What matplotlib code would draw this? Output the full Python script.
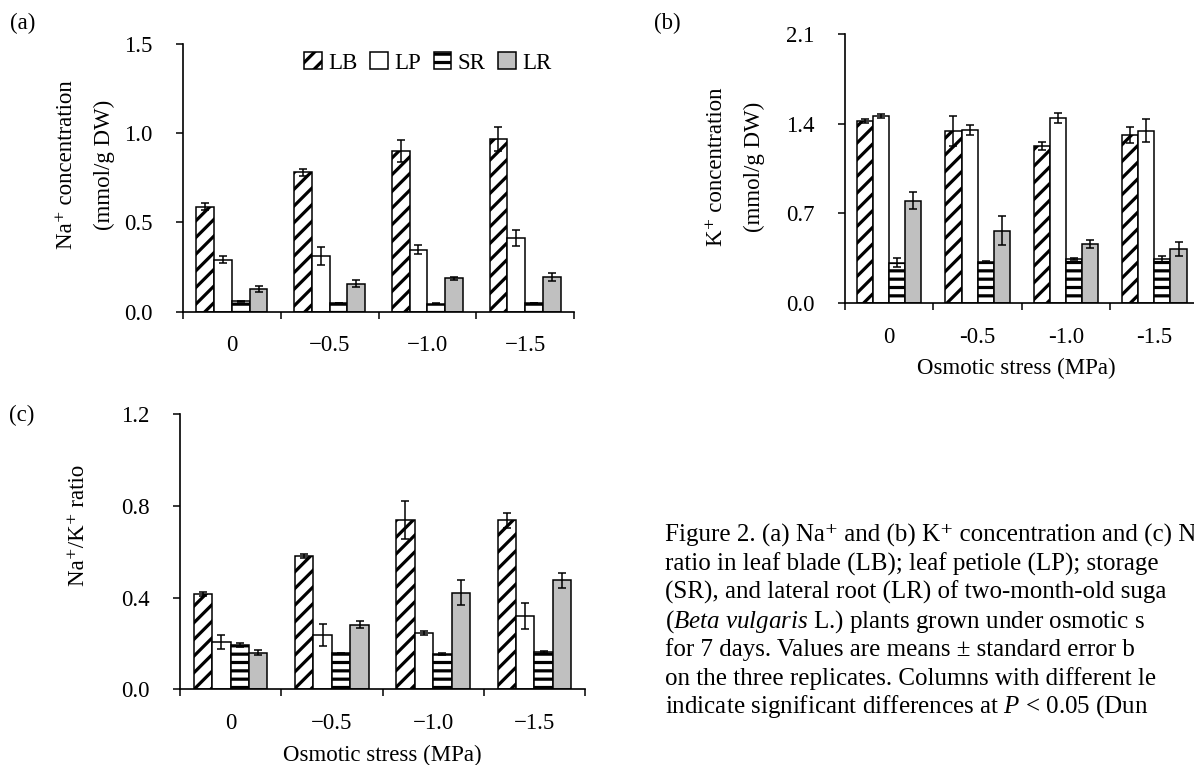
import matplotlib
matplotlib.use("Agg")
import matplotlib.pyplot as plt
import numpy as np

# ---------------- data ----------------
tissues = ["LB", "LP", "SR", "LR"]
stress_labels_a = ["0", "\u22120.5", "\u22121.0", "\u22121.5"]
stress_labels_b = ["0", "-0.5", "-1.0", "-1.5"]
stress_labels_c = ["0", "\u22120.5", "\u22121.0", "\u22121.5"]

na_LB = [0.588, 0.780, 0.899, 0.965]
na_LP = [0.292, 0.313, 0.347, 0.414]
na_SR = [0.058, 0.048, 0.045, 0.048]
na_LR = [0.128, 0.156, 0.186, 0.194]
na_LB_se = [0.018, 0.018, 0.063, 0.066]
na_LP_se = [0.019, 0.050, 0.024, 0.044]
na_SR_se = [0.004, 0.002, 0.002, 0.002]
na_LR_se = [0.018, 0.020, 0.006, 0.020]

k_LB = [1.423, 1.343, 1.226, 1.311]
k_LP = [1.462, 1.353, 1.447, 1.343]
k_SR = [0.315, 0.320, 0.345, 0.340]
k_LR = [0.800, 0.565, 0.460, 0.420]
k_LB_se = [0.017, 0.120, 0.029, 0.065]
k_LP_se = [0.014, 0.040, 0.040, 0.090]
k_SR_se = [0.035, 0.006, 0.008, 0.030]
k_LR_se = [0.065, 0.113, 0.030, 0.055]

r_LB = [0.416, 0.582, 0.740, 0.737]
r_LP = [0.205, 0.237, 0.246, 0.320]
r_SR = [0.193, 0.157, 0.154, 0.164]
r_LR = [0.160, 0.281, 0.422, 0.476]
r_LB_se = [0.009, 0.010, 0.082, 0.031]
r_LP_se = [0.031, 0.046, 0.007, 0.055]
r_SR_se = [0.007, 0.003, 0.004, 0.005]
r_LR_se = [0.012, 0.015, 0.053, 0.033]

yticks_a = [0.0, 0.5, 1.0, 1.5]
yticks_b = [0.0, 0.7, 1.4, 2.1]
yticks_c = [0.0, 0.4, 0.8, 1.2]

caption_lines = [
    "Figure 2. (a) Na\u207a and (b) K\u207a concentration and (c) N",
    "ratio in leaf blade (LB); leaf petiole (LP); storage",
    "(SR), and lateral root (LR) of two-month-old suga",
    "(${\\it Beta\\ vulgaris}$ L.) plants grown under osmotic s",
    "for 7 days. Values are means \u00b1 standard error b",
    "on the three replicates. Columns with different le",
    "indicate significant differences at ${\\it P}$ < 0.05 (Dun",
]

# ---------------- style ----------------
W, H = 1194, 765
plt.rcParams["font.family"] = ["Liberation Serif", "DejaVu Serif"]
plt.rcParams["mathtext.fontset"] = "custom"
plt.rcParams["mathtext.rm"] = "Liberation Serif"
plt.rcParams["mathtext.it"] = "Liberation Serif:italic"
plt.rcParams["hatch.linewidth"] = 2.3
plt.rcParams["hatch.color"] = "black"

FS = 16.5
faces = ["white", "white", "white", "#c0c0c0"]
hatches = ["//", "", "--", ""]
BW = 0.182

fig = plt.figure(figsize=(W / 100, H / 100), dpi=100)


def axes_px(left, right, top, bottom):
    return fig.add_axes([left / W, 1 - bottom / H, (right - left) / W, (bottom - top) / H])


def panel(ax, vals, errs, yticks, xlabels):
    x = np.arange(len(xlabels))
    bars = []
    for i, name in enumerate(tissues):
        b = ax.bar(x + (i - 1.5) * BW, vals[i], BW, yerr=errs[i],
                   color=faces[i], edgecolor="black", linewidth=1.1,
                   hatch=hatches[i] if hatches[i] else None, label=name, zorder=2,
                   error_kw=dict(ecolor="black", elinewidth=1.1, capsize=3,
                                 capthick=1.1, zorder=3))
        bars.append(b)
    ax.set_xlim(-0.5, len(xlabels) - 0.5)
    ax.set_ylim(yticks[0], yticks[-1])
    for s in ["top", "right"]:
        ax.spines[s].set_visible(False)
    for s in ["left", "bottom"]:
        ax.spines[s].set_linewidth(1.2)
    ax.set_yticks(yticks)
    ax.set_yticklabels([f"{v:.1f}" for v in yticks])
    ax.tick_params(axis="y", direction="out", length=5, width=1.1, pad=17, labelsize=FS)
    ax.set_xticks(np.arange(len(xlabels) + 1) - 0.5)
    ax.set_xticklabels([])
    ax.tick_params(axis="x", which="major", direction="out", length=5, width=1.1)
    ax.set_xticks(x, minor=True)
    ax.set_xticklabels(xlabels, minor=True)
    ax.tick_params(axis="x", which="minor", length=0, pad=17, labelsize=FS)
    return bars


ax_a = axes_px(183, 574, 43.7, 311.7)
bars_a = panel(ax_a, [na_LB, na_LP, na_SR, na_LR],
               [na_LB_se, na_LP_se, na_SR_se, na_LR_se], yticks_a, stress_labels_a)

ax_b = axes_px(845, 1198.6, 34, 303)
panel(ax_b, [k_LB, k_LP, k_SR, k_LR],
      [k_LB_se, k_LP_se, k_SR_se, k_LR_se], yticks_b, stress_labels_b)

ax_c = axes_px(180, 585, 414.3, 689.3)
panel(ax_c, [r_LB, r_LP, r_SR, r_LR],
      [r_LB_se, r_LP_se, r_SR_se, r_LR_se], yticks_c, stress_labels_c)


def ftext(x, y, s, **kw):
    kw.setdefault("fontsize", FS)
    return fig.text(x / W, 1 - y / H, s, **kw)


# legend
ax_a.legend(handles=bars_a, labels=tissues, ncol=4, loc="center",
            bbox_to_anchor=(428 / W, 1 - 63 / H), bbox_transform=fig.transFigure,
            frameon=False, fontsize=FS, handlelength=0.75, handleheight=0.75,
            handletextpad=0.3, columnspacing=0.55, borderpad=0, borderaxespad=0)

# y labels
ftext(67, 165, "Na\u207a concentration", rotation=90, ha="center", va="center")
ftext(104, 165, "(mmol/g DW)", rotation=90, ha="center", va="center")
ftext(716, 167, "K\u207a concentration", rotation=90, ha="center", va="center")
ftext(754, 167, "(mmol/g DW)", rotation=90, ha="center", va="center")
ftext(78, 525, "Na\u207a/K\u207a ratio", rotation=90, ha="center", va="center")

# x labels
ftext(1016, 368, "Osmotic stress (MPa)", ha="center", va="center")
ftext(382, 755, "Osmotic stress (MPa)", ha="center", va="center")

# panel tags
ftext(23, 23, "(a)", ha="center", va="center")
ftext(667, 23, "(b)", ha="center", va="center")
ftext(22, 415, "(c)", ha="center", va="center")

# caption
for i, line in enumerate(caption_lines):
    ftext(665, 542 + i * 28.5, line, ha="left", va="baseline", fontsize=18)

fig.savefig("out.png", dpi=100)
